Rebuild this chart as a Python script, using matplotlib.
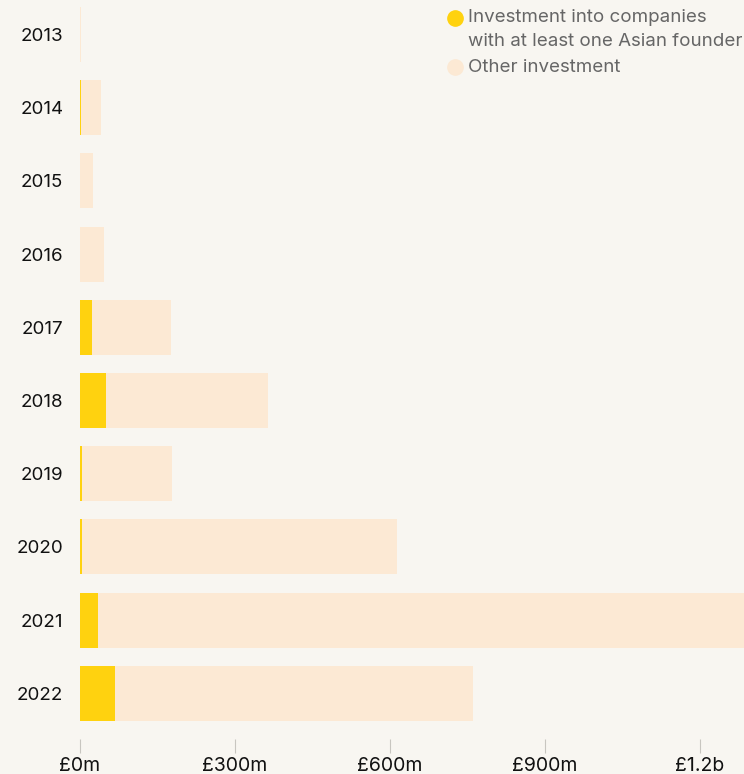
import numpy as np
import matplotlib.pyplot as plt
from matplotlib.lines import Line2D

plt.rcParams['font.family'] = ['Inter', 'DejaVu Sans']

years = ['2013', '2014', '2015', '2016', '2017', '2018', '2019', '2020', '2021', '2022']
# investment in £m
asian = [0, 1.5, 0, 0, 23, 50, 3, 3, 35, 68]
total = [1, 41, 25, 46, 176, 364, 178, 614, 1300, 760]
ticks = [0, 300, 600, 900, 1200]
tick_labels = ['£0m', '£300m', '£600m', '£900m', '£1.2b']

bg = '#f8f6f1'
yellow = '#ffd20f'
peach = '#fce9d4'

fig = plt.figure(figsize=(7.44, 7.74), dpi=100, facecolor=bg)
ax = fig.add_axes([80 / 744, 46 / 774, 664 / 744, 728 / 774], facecolor=bg)

y = np.arange(len(years))
other = np.array(total) - np.array(asian)
ax.barh(y, asian, height=0.75, color=yellow, linewidth=0)
ax.barh(y, other, left=asian, height=0.75, color=peach, linewidth=0)

ax.set_xlim(0, 1285)
ax.set_ylim(9.474, -0.471)

for s in ['top', 'right', 'left']:
    ax.spines[s].set_visible(False)
ax.spines['bottom'].set_position(('outward', 8))
ax.spines['bottom'].set_visible(False)

ax.set_xticks(ticks, tick_labels)
ax.tick_params(axis='x', length=10, width=0.8, color='#c8c6c0', pad=3,
               labelsize=14, labelcolor='#111111')
ax.set_yticks(y, years)
ax.tick_params(axis='y', length=0, pad=12, labelsize=13.5, labelcolor='#111111')

# legend
fig.add_artist(Line2D([455 / 744], [1 - 18 / 774], marker='o', markersize=11,
                      color=yellow, linestyle='none'))
fig.add_artist(Line2D([455 / 744], [1 - 67 / 774], marker='o', markersize=11,
                      color=peach, linestyle='none'))
legend_lines = [('Investment into companies', 18),
                ('with at least one Asian founder', 41),
                ('Other investment', 67)]
for txt, ypx in legend_lines:
    fig.text(468 / 744, 1 - ypx / 774, txt, va='center', ha='left',
             fontsize=13.5, color='#666666')

fig.savefig('out.png', facecolor=bg)
